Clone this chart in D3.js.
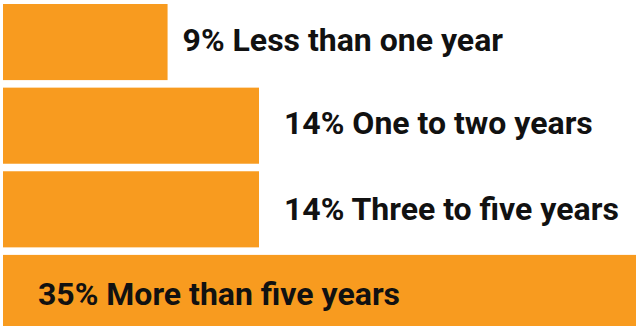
<!DOCTYPE html>
<html>
<head>
<meta charset="utf-8">
<script src="https://cdn.jsdelivr.net/npm/d3@7"></script>
<style>
  html, body { margin: 0; padding: 0; background: #fff; }
  svg { display: block; }
  .label { font-family: Roboto, "Noto Sans", sans-serif; font-weight: 700; font-size: 32px; fill: #111; }
</style>
</head>
<body>
<div id="chart"></div>
<script>
// data
var categories = ["Less than one year", "One to two years", "Three to five years", "More than five years"];
var values = [9, 14, 14, 35];

// label placement: offset after the bar end (or inside for the last one), px
var labelDx = [15, 25, 25, 35];
var labelDy = [9, 8, 11, 12];
var labelInside = [false, false, false, true];

var width = 636, height = 326;

var svg = d3.select("#chart").append("svg")
  .attr("width", width)
  .attr("height", height);

// Set the ranges (longest bar runs off the right edge)
var x = d3.scaleLinear().domain([0, 35]).range([3, 643]);
var y = d3.scaleBand().domain(categories).range([4, 331]).paddingInner(0.09).paddingOuter(0);

var rows = categories.map(function(c, i) {
  return {cat: c, value: values[i], i: i};
});

// bars
svg.selectAll("rect.bar")
  .data(rows)
  .enter().append("rect")
    .attr("class", "bar")
    .attr("x", x(0))
    .attr("y", function(d) { return y(d.cat); })
    .attr("width", function(d) { return x(d.value) - x(0); })
    .attr("height", y.bandwidth())
    .attr("fill", "#F89B1F");

// labels
svg.selectAll("text.label")
  .data(rows)
  .enter().append("text")
    .attr("class", "label")
    .attr("x", function(d) {
      return labelInside[d.i] ? x(0) + labelDx[d.i] : x(d.value) + labelDx[d.i];
    })
    .attr("y", function(d) { return y(d.cat) + y.bandwidth() / 2 + labelDy[d.i]; })
    .text(function(d) { return d.value + "% " + d.cat; });
</script>
</body>
</html>
